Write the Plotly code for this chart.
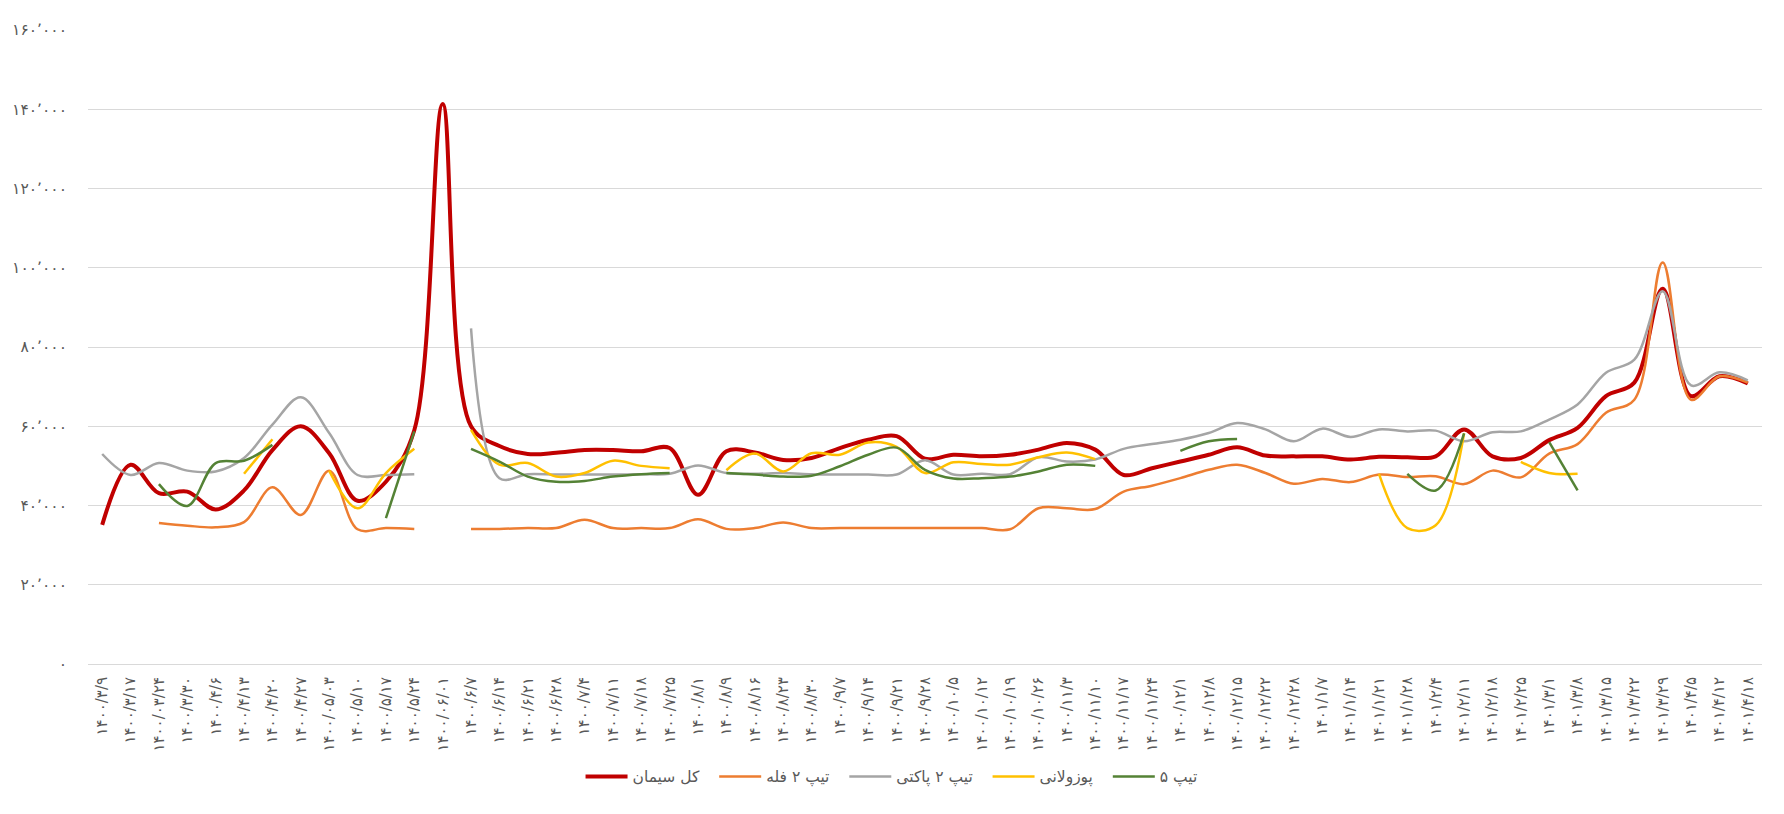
import plotly.graph_objects as go

dates = [
    "۱۴۰۰/۳/۹", "۱۴۰۰/۳/۱۷", "۱۴۰۰/۰۳/۲۴", "۱۴۰۰/۳/۳۰", "۱۴۰۰/۴/۶", "۱۴۰۰/۴/۱۳", "۱۴۰۰/۴/۲۰", "۱۴۰۰/۴/۲۷",
    "۱۴۰۰/۰۵/۰۳", "۱۴۰۰/۵/۱۰", "۱۴۰۰/۵/۱۷", "۱۴۰۰/۵/۲۴", "۱۴۰۰/۰۶/۰۱", "۱۴۰۰/۶/۷", "۱۴۰۰/۶/۱۴", "۱۴۰۰/۶/۲۱",
    "۱۴۰۰/۶/۲۸", "۱۴۰۰/۷/۴", "۱۴۰۰/۷/۱۱", "۱۴۰۰/۷/۱۸", "۱۴۰۰/۷/۲۵", "۱۴۰۰/۸/۱", "۱۴۰۰/۸/۹", "۱۴۰۰/۸/۱۶",
    "۱۴۰۰/۸/۲۳", "۱۴۰۰/۸/۳۰", "۱۴۰۰/۹/۷", "۱۴۰۰/۹/۱۴", "۱۴۰۰/۹/۲۱", "۱۴۰۰/۹/۲۸", "۱۴۰۰/۱۰/۵", "۱۴۰۰/۱۰/۱۲",
    "۱۴۰۰/۱۰/۱۹", "۱۴۰۰/۱۰/۲۶", "۱۴۰۰/۱۱/۳", "۱۴۰۰/۱۱/۱۰", "۱۴۰۰/۱۱/۱۷", "۱۴۰۰/۱۱/۲۴", "۱۴۰۰/۱۲/۱", "۱۴۰۰/۱۲/۸",
    "۱۴۰۰/۱۲/۱۵", "۱۴۰۰/۱۲/۲۲", "۱۴۰۰/۱۲/۲۸", "۱۴۰۱/۱/۷", "۱۴۰۱/۱/۱۴", "۱۴۰۱/۱/۲۱", "۱۴۰۱/۱/۲۸", "۱۴۰۱/۲/۴",
    "۱۴۰۱/۲/۱۱", "۱۴۰۱/۲/۱۸", "۱۴۰۱/۲/۲۵", "۱۴۰۱/۳/۱", "۱۴۰۱/۳/۸", "۱۴۰۱/۳/۱۵", "۱۴۰۱/۳/۲۲", "۱۴۰۱/۳/۲۹",
    "۱۴۰۱/۴/۵", "۱۴۰۱/۴/۱۲", "۱۴۰۱/۴/۱۸",
]

N = None
total_cement = [
    35100, 50300, 43100, 43500, 39000, 43800, 54000, 60000, 53200, 41200,
    46000, 59000, 141300, 60000, 55000, 53000, 53300, 54000, 54000, 53700,
    54500, 42700, 53700, 53400, 51500, 52000, 54500, 56600, 57500, 51800,
    52800, 52400, 52800, 54100, 55800, 54100, 47700, 49400, 51100, 52800,
    54700, 52600, 52400, 52400, 51600, 52300, 52200, 52400, 59200, 52400,
    52000, 56500, 59600, 67600, 71000, 94700, 67600, 72600, 70800,
]
type2_bulk = [
    N, N, 35600, 34900, 34500, 35800, 44600, 37600, 48800, 34000,
    34300, 34100, N, 34100, 34100, 34300, 34300, 36400, 34300, 34300,
    34300, 36500, 34100, 34300, 35700, 34300, 34300, 34300, 34300, 34300,
    34300, 34300, 34000, 39300, 39300, 39100, 43500, 45000, 46900, 49000,
    50300, 48200, 45500, 46700, 45900, 47800, 47200, 47400, 45400, 48800,
    47100, 53100, 55500, 63400, 66700, 101300, 66700, 72600, 71000,
]
type2_bag = [
    53000, 47700, 50700, 48800, 48600, 52000, 60400, 67300, 58300, 47700,
    47700, 47900, N, 84700, 46900, 47900, 47800, 47800, 47800, 47900,
    48000, 50100, 48200, 48000, 48200, 47900, 47800, 47800, 47800, 51400,
    47800, 48000, 47900, 52200, 51100, 51600, 54300, 55500, 56600, 58300,
    60800, 59200, 56200, 59400, 57300, 59200, 58700, 58900, 56200, 58500,
    58700, 61700, 65500, 73500, 76800, 94100, 70300, 73600, 71600,
]
pozzolan = [
    N, N, N, N, N, 48000, 56700, N, 48800, 39300,
    48200, 54300, N, 59100, 50300, 50700, 47300, 48200, 51300, 50000,
    49400, N, 48900, 53100, 48600, 53200, 52800, 55900, 54800, 48200,
    50900, 50500, 50300, 52200, 53400, 51700, N, N, N, N,
    N, N, N, N, N, 48000, 34300, 35000, 58200, N,
    51000, 48200, 48000, N, N, N, N, N, N,
]
type5 = [
    N, N, 45400, 39900, 50700, 51300, 55300, N, N, N,
    36800, 58700, N, 54300, 51100, 47300, 46000, 46200, 47300, 47900,
    48200, N, 48200, 47800, 47300, 47500, 49900, 52800, 54600, 49000,
    46800, 46900, 47300, 48600, 50300, 50000, N, N, 53800, 56200,
    56800, N, N, N, N, N, 48000, 43800, 58200, N,
    N, 56000, 43800, N, N, N, N, N, N,
]

series = [
    ("کل سیمان", total_cement, "#C00000", 4),
    ("تیپ ۲ فله", type2_bulk, "#ED7D31", 2.5),
    ("تیپ ۲ پاکتی", type2_bag, "#A5A5A5", 2.5),
    ("پوزولانی", pozzolan, "#FFC000", 2.5),
    ("تیپ ۵", type5, "#548235", 2.5),
]

y_ticks = [0, 20000, 40000, 60000, 80000, 100000, 120000, 140000, 160000]
y_ticktext = ["۰", "۲۰٬۰۰۰", "۴۰٬۰۰۰", "۶۰٬۰۰۰", "۸۰٬۰۰۰", "۱۰۰٬۰۰۰", "۱۲۰٬۰۰۰", "۱۴۰٬۰۰۰", "۱۶۰٬۰۰۰"]

fig = go.Figure()
for name, vals, color, w in series:
    fig.add_trace(go.Scatter(
        x=dates, y=vals, name=name + "\u00a0\u00a0", mode="lines",
        line=dict(color=color, width=w, shape="spline", smoothing=1.0),
        connectgaps=False,
    ))

font_family = "DejaVu Sans, Noto Sans, sans-serif"
# page body has an 8px default margin, so the figure is sized to fit the window
fig.update_layout(
    width=1768, height=798,
    margin=dict(l=80, r=14, t=22, b=142, autoexpand=False),
    paper_bgcolor="white", plot_bgcolor="white",
    font=dict(family=font_family, color="#595959"),
    showlegend=True,
    legend=dict(
        orientation="h", x=0.483, xanchor="center", y=-0.178, yanchor="middle",
        font=dict(size=15.5, color="#595959"), traceorder="normal", itemwidth=42,
    ),
)
fig.update_xaxes(
    type="category", range=[-0.5, len(dates) - 0.5], automargin=False,
    tickangle=-90, tickfont=dict(size=15, color="#595959"),
    showgrid=False, showline=True, linecolor="#D9D9D9", linewidth=1,
    ticks="", ticklabelstandoff=6,
)
fig.update_yaxes(
    range=[0, 160000], tickvals=y_ticks, ticktext=y_ticktext, automargin=False,
    tickfont=dict(size=15.5, color="#595959"),
    showgrid=True, gridcolor="#D9D9D9", gridwidth=1,
    zeroline=False, showline=False, ticks="", ticklabelstandoff=20,
)

fig.write_html("out.html")
